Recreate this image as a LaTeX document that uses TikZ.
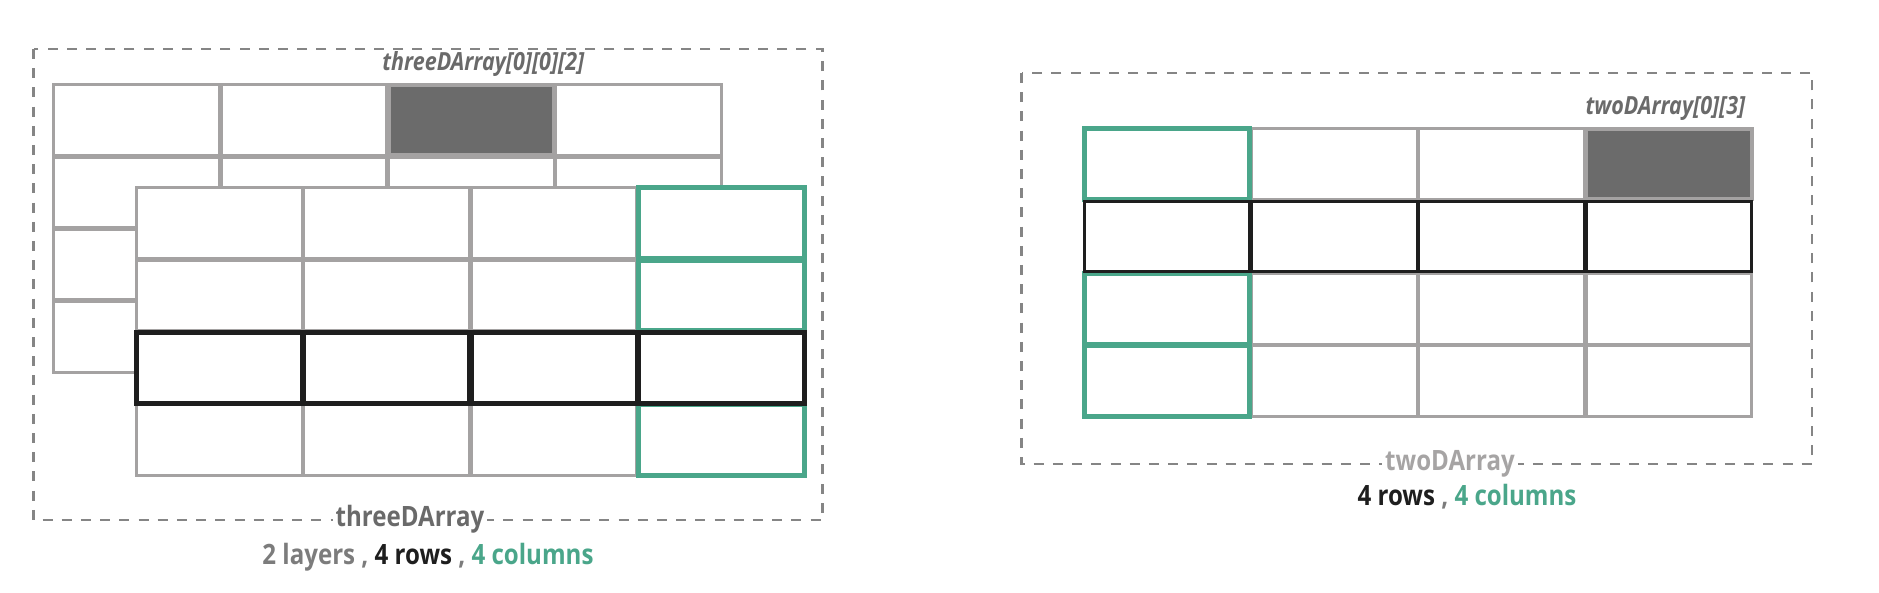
\documentclass[tikz,border=0pt]{standalone}
\usepackage{fontspec}
\setmainfont{Open Sans}
\newfontfamily\narrowfont{Open Sans}[FakeStretch=0.86]
\usetikzlibrary{positioning}

\definecolor{cellgray}{HTML}{A4A2A2}
\definecolor{darkcell}{HTML}{6B6B6B}
\definecolor{colgreen}{HTML}{4AA68A}
\definecolor{rowblack}{HTML}{1E1E1E}
\definecolor{boxgray}{HTML}{858585}
\definecolor{labelgray}{HTML}{6A6A6A}
\definecolor{namegray}{HTML}{A6A4A4}
\definecolor{sizegray}{HTML}{7C7C7C}

\tikzset{
  cell/.style={draw=cellgray, line width=1.5pt, fill=white, minimum width=82.8pt,
    minimum height=35.3pt, inner sep=0pt, outer sep=0pt},
  picked/.style={cell, fill=darkcell, line width=2pt},
  colcell/.style={cell, draw=colgreen, line width=2.4pt},
  rowcell/.style={cell, draw=rowblack, line width=2.4pt},
  thinrow/.style={rowcell, line width=1.5pt},
  arraybox/.style={draw=boxgray, line width=1.3pt, dash pattern=on 5pt off 4.6pt},
  indexlabel/.style={font=\narrowfont\bfseries\itshape\fontsize{12.5}{14}\selectfont, text=labelgray, inner sep=1pt},
  arrayname/.style={font=\narrowfont\bfseries\fontsize{14}{16}\selectfont, fill=white, inner sep=1.5pt},
  sizeline/.style={font=\narrowfont\bfseries\fontsize{14}{16}\selectfont, text=sizegray}
}

\begin{document}
\begin{tikzpicture}[x=0.5pt, y=-0.5pt]
  \useasboundingbox (0,0) rectangle (1879,593);

  % three dimensional array
  \draw[arraybox] (33.5,49) rectangle (822.5,520);
  \foreach \r/\c in {0/0,0/1,0/3,1/0,1/1,1/2,1/3,2/0,2/1,2/2,2/3,3/0,3/1,3/2,3/3}
    \node[cell] (back-\r-\c) at ({136.5+167.4*\c},{120.2+72.2*\r}) {};
  \node[picked] (back-0-2) at ({136.5+167.4*2},120.2) {};
  \foreach \r/\c in {0/0,0/1,0/2,1/0,1/1,1/2,3/0,3/1,3/2}
    \node[cell] (front-\r-\c) at ({219.3+167.4*\c},{223.2+72.3*\r}) {};
  \foreach \r in {0,1,3}
    \node[colcell] (front-\r-3) at ({219.3+167.4*3},{223.2+72.3*\r}) {};
  \foreach \c in {0,...,3}
    \node[rowcell] (front-2-\c) at ({219.3+167.4*\c},{223.2+72.3*2}) {};

  \node[indexlabel, anchor=south] (three-idx) at ([xshift=6pt, yshift=3pt]back-0-2.north) {threeDArray[0][0][2]};
  \node[arrayname, text=labelgray] (three-name) at (410,519) {threeDArray};
  \node[sizeline] (three-size) at (428,557) {2 layers , \textcolor{rowblack}{4 rows} , \textcolor{colgreen}{4 columns}};

  % two dimensional array
  \draw[arraybox] (1021.5,73) rectangle (1812,464);
  \foreach \r/\c in {0/1,0/2,2/1,2/2,2/3,3/1,3/2,3/3}
    \node[cell] (two-\r-\c) at ({1167+167.3*\c},{164.2+72.3*\r}) {};
  \node[picked] (two-0-3) at ({1167+167.3*3},164.2) {};
  \foreach \r in {0,2,3}
    \node[colcell] (two-\r-0) at (1167,{164.2+72.3*\r}) {};
  \foreach \c in {0,...,3}
    \node[thinrow] (two-1-\c) at ({1167+167.3*\c},{164.2+72.3}) {};

  \node[indexlabel, anchor=south east] (two-idx) at ([xshift=-2pt, yshift=3pt]two-0-3.north east) {twoDArray[0][3]};
  \node[arrayname, text=namegray] (two-name) at (1450,464) {twoDArray};
  \node[sizeline] (two-size) at (1467,497) {\textcolor{rowblack}{4 rows} , \textcolor{colgreen}{4 columns}};
\end{tikzpicture}
\end{document}
